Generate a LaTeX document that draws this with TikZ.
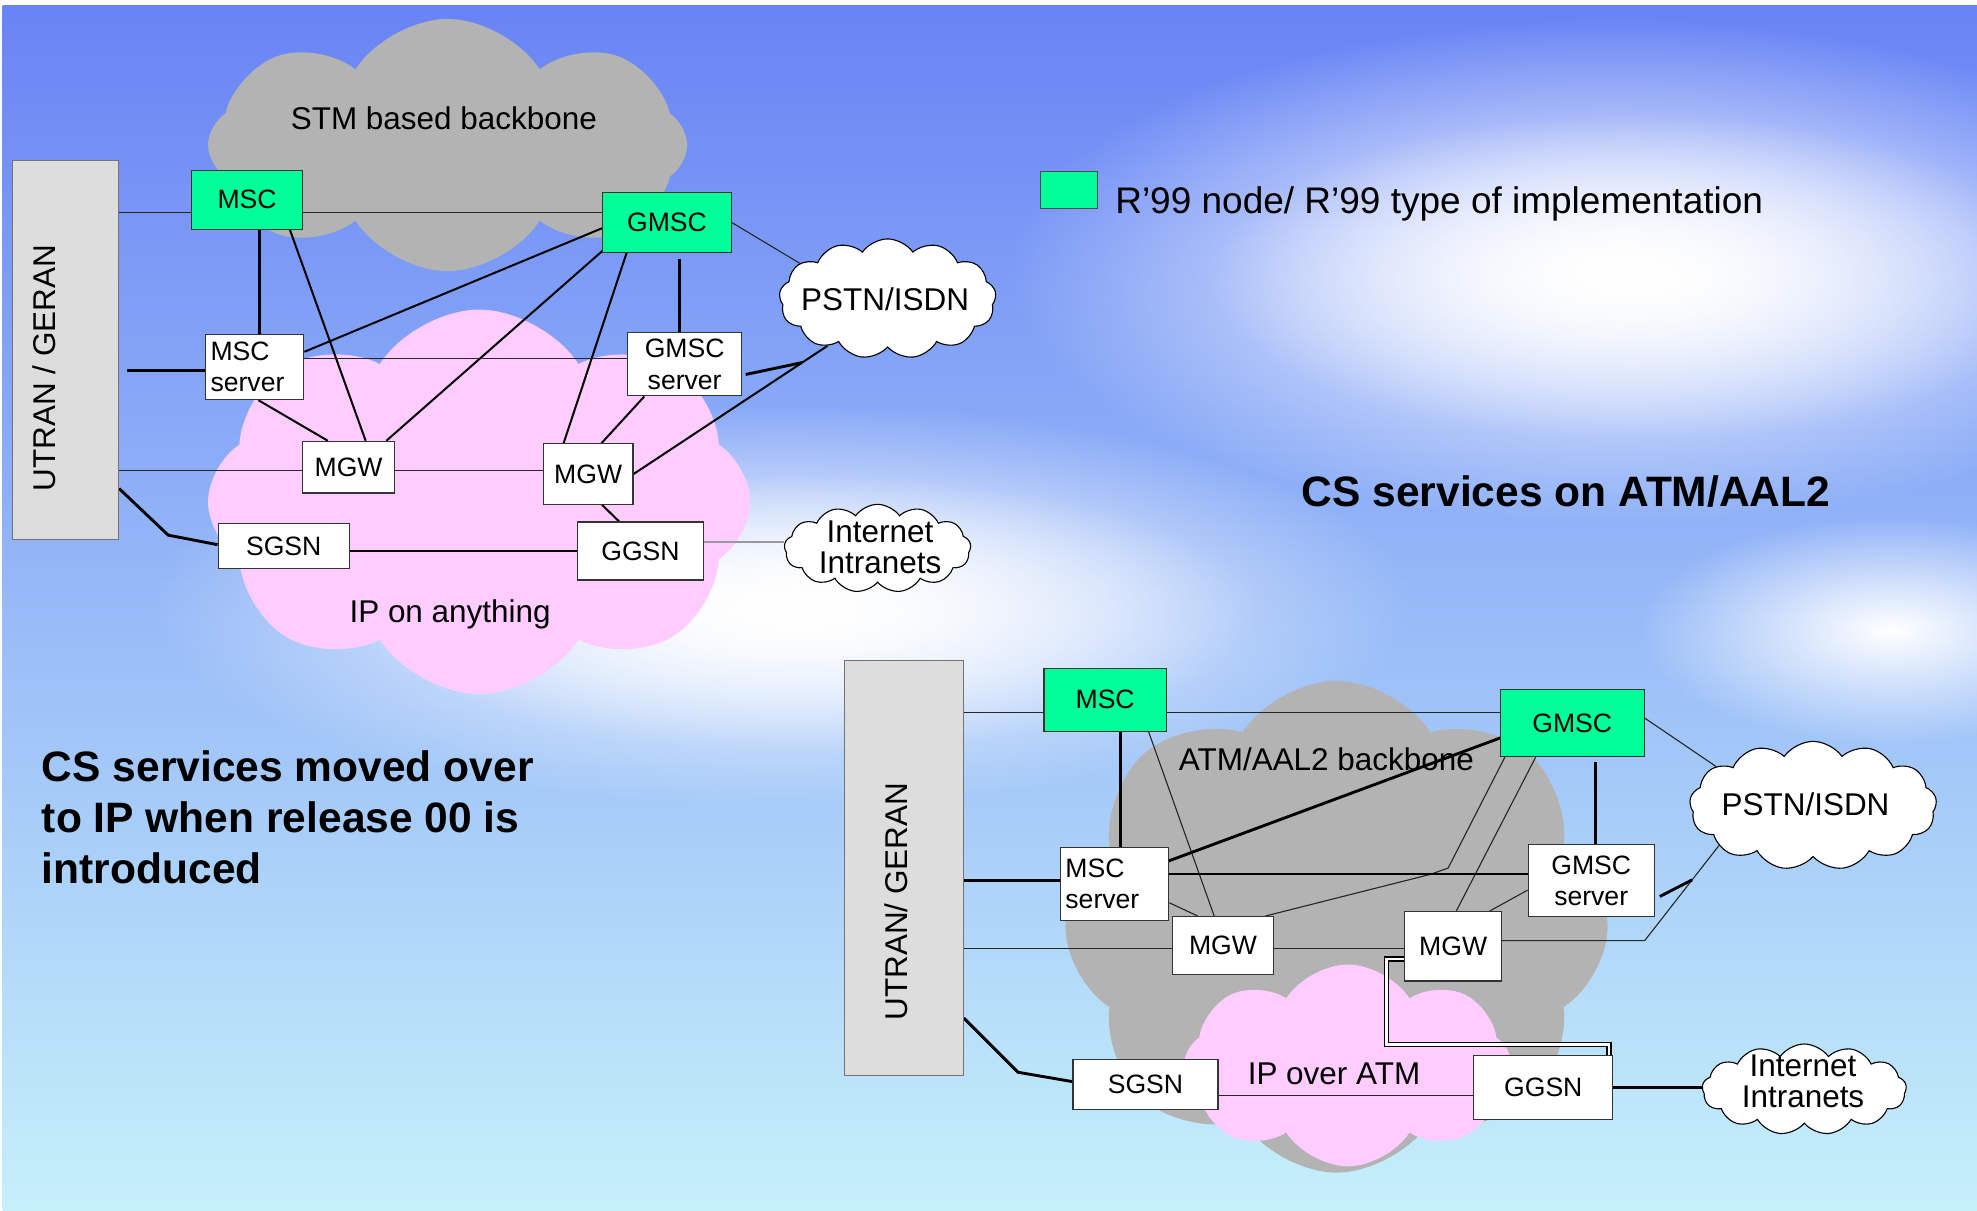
\documentclass[tikz,border=0pt]{standalone}
\usepackage{fontspec}
\setmainfont{Liberation Sans}
\usetikzlibrary{calc}
\usetikzlibrary{shapes.symbols}
\usetikzlibrary{fadings}
\definecolor{rgreen}{RGB}{0,255,153}
\definecolor{cloudgray}{RGB}{179,179,179}
\definecolor{ippink}{RGB}{255,204,255}
\definecolor{rangray}{RGB}{221,221,221}
\definecolor{skytop}{RGB}{104,132,245}
\definecolor{skymid}{RGB}{172,198,250}
\definecolor{skybot}{RGB}{198,240,250}
\tikzfading[name=skyglow, inner color=transparent!0, outer color=transparent!100]
\pgfdeclarelayer{back}
\pgfdeclarelayer{wires}
\pgfsetlayers{back,wires,main}
\tikzset{
  netbox/.style 2 args={draw=black!80, fill=white, line width=0.5pt, inner sep=2pt,
    minimum width=#1*0.02cm, minimum height=#2*0.02cm, font=\fontsize{12}{14.2}\selectfont},
  r99box/.style 2 args={netbox={#1}{#2}, fill=rgreen},
  ranbox/.style 2 args={draw=black!55, fill=rangray, line width=0.5pt,
    minimum width=#1*0.02cm, minimum height=#2*0.02cm},
  bigcloud/.style={cloud, cloud puffs=8, cloud puff arc=115, inner sep=0pt},
  netcloud/.style={cloud, cloud puffs=13, cloud puff arc=110, draw=black, fill=white,
    line width=0.5pt, inner sep=0pt},
  lbl/.style={font=\fontsize{14.2}{14}\selectfont, align=center},
  thinln/.style={line width=0.5pt, draw=black!85},
  midln/.style={line width=0.9pt},
  thkln/.style={line width=1.3pt},
  dblln/.style={double, line width=0.6pt, double distance=1.2pt},
  glow/.style={fill=white, path fading=skyglow},
}

\begin{document}
\begin{tikzpicture}[x=0.02cm, y=-0.02cm]
  \useasboundingbox (0,0) rectangle (1568,960);

  \begin{pgfonlayer}{back}
    % sky
    \fill[white] (0,0) rectangle (1568,960);
    \shade[top color=skytop, middle color=skymid, bottom color=skybot] (2,4) rectangle (1568,960);
    \fill[glow] (1280,215) ellipse [x radius=480, y radius=200];
    \fill[glow] (1300,220) ellipse [x radius=340, y radius=130];
    \fill[glow] (620,480) ellipse [x radius=500, y radius=160];
    \fill[glow] (640,485) ellipse [x radius=360, y radius=110];
    \fill[glow] (1500,500) ellipse [x radius=200, y radius=90];

    % backbones
    \node[bigcloud, fill=cloudgray, minimum width=380*0.02cm, minimum height=200*0.02cm] (stm) at (355,115) {};
    \node[bigcloud, fill=ippink, minimum width=430*0.02cm, minimum height=305*0.02cm] (ipany) at (380,398) {};
    \node[bigcloud, fill=cloudgray, minimum width=430*0.02cm, minimum height=390*0.02cm] (atm) at (1060,735) {};
    \node[bigcloud, fill=ippink, minimum width=260*0.02cm, minimum height=160*0.02cm] (ipatm) at (1069,845) {};
    \node[lbl] (stmtxt) at (352,94) {STM based backbone};
    \node[lbl] (ipanytxt) at (357,487) {IP on anything};
    \node[lbl] (atmtxt) at (1052,602) {ATM/AAL2 backbone};
    \node[lbl] (ipatmtxt) at (1058,852) {IP over ATM};

    % outside networks
    \node[netcloud, minimum width=172*0.02cm, minimum height=95*0.02cm] (pstn) at (704,237) {};
    \node[netcloud, minimum width=148*0.02cm, minimum height=70*0.02cm] (inet) at (696,435) {};
    \node[netcloud, minimum width=196*0.02cm, minimum height=102*0.02cm] (pstnb) at (1438,639) {};
    \node[netcloud, minimum width=162*0.02cm, minimum height=72*0.02cm] (inetb) at (1431,864) {};
    \node[lbl] (pstntxt) at (702,237) {PSTN/ISDN};
    \node[lbl] (inettxt) at (698,434) {Internet\\Intranets};
    \node[lbl] (pstnbtxt) at (1432,638) {PSTN/ISDN};
    \node[lbl] (inetbtxt) at (1430,858) {Internet\\Intranets};
  \end{pgfonlayer}

  % release 00 nodes
  \node[ranbox={84}{301}] (utran) at (52,277.5) {};
  \node[lbl, rotate=90] (utrantxt) at (35,292) {UTRAN / GERAN};
  \node[r99box={88}{47}] (msc) at (196,158.5) {MSC};
  \node[r99box={102}{47}] (gmsc) at (529,176.5) {GMSC};
  \node[netbox={78}{52}, align=left, text width=1.4cm] (mscsrv) at (202,291) {MSC\\server};
  \node[netbox={90}{50}, align=center] (gmscsrv) at (543,289) {GMSC\\server};
  \node[netbox={73}{41}] (mgwa) at (276.5,370.5) {MGW};
  \node[netbox={71}{48}] (mgwb) at (466.5,376) {MGW};
  \node[netbox={104}{36}] (sgsn) at (225,433) {SGSN};
  \node[netbox={100}{46}] (ggsn) at (508,437) {GGSN};

  % ATM/AAL2 nodes
  \node[ranbox={94}{329}] (utranb) at (717,688.5) {};
  \node[lbl, rotate=90] (utranbtxt) at (711,715) {UTRAN/ GERAN};
  \node[r99box={97}{50}] (mscb) at (876.5,555) {MSC};
  \node[r99box={114}{53}] (gmscb) at (1247,573.5) {GMSC};
  \node[netbox={86}{58}, align=left, text width=1.56cm] (mscsrvb) at (884,701) {MSC\\server};
  \node[netbox={100}{57}, align=center] (gmscsrvb) at (1262,698.5) {GMSC\\server};
  \node[netbox={80}{46}] (mgwc) at (970,750) {MGW};
  \node[netbox={77}{55}] (mgwd) at (1152.5,750.5) {MGW};
  \node[netbox={115}{40}] (sgsnb) at (908.5,860) {SGSN};
  \node[netbox={110}{51}] (ggsnb) at (1224,862.5) {GGSN};

  % legend and titles
  \node[draw=black!70, fill=rgreen, inner sep=0pt, minimum width=45*0.02cm, minimum height=29*0.02cm] (legbox) at (847.5,150.5) {};
  \node[anchor=west, font=\fontsize{16.7}{20}\selectfont] (legtxt) at ($(legbox.east)+(8,11)$) {R’99 node/ R’99 type of implementation};
  \node[font=\fontsize{19.2}{23}\selectfont\bfseries] (atmtitle) at (1242,390) {CS services on ATM/AAL2};
  \node[anchor=north west, align=left, font=\fontsize{19.2}{23}\selectfont\bfseries] (iptitle) at (27,589) {CS services moved over\\to IP when release 00 is\\introduced};

  \begin{pgfonlayer}{wires}
    % release 00 links
    \draw[thinln] ($(msc.west)+(0,10)$) coordinate (t1) -- (t1 -| utran.east);
    \draw[thinln] (t1 -| msc.east) -- (t1 -| gmsc.west);
    \draw[thkln] ($(msc.south)+(10,0)$) coordinate (t2) -- (t2 |- mscsrv.north);
    \draw[midln] ($(msc.south)+(34,0)$) -- ($(mgwa.north)+(13.5,0)$);
    \draw[midln] ($(gmsc.west)+(0,4.5)$) -- ($(mscsrv.east)+(0,-12)$);
    \draw[midln] ($(gmsc.south west)+(2,-3)$) -- ($(mgwa.north east)+(-7,0)$);
    \draw[midln] ($(gmsc.south)+(-32,0)$) -- ($(mgwb.north)+(-19.5,0)$);
    \draw[thkln] ($(gmsc.south)+(10,5)$) coordinate (t3) -- (t3 |- gmscsrv.north);
    \draw[thinln] (gmsc.east) -- (pstn.158);
    \draw[thkln] ($(mscsrv.west)+(0,3)$) coordinate (t4) -- ($(t4 -| utran.east)+(6,0)$);
    \draw[thinln] ($(mscsrv.east)+(0,-7)$) coordinate (t5) -- (t5 -| gmscsrv.west);
    \draw[midln] (mgwb.east) -- coordinate[pos=0.87] (t6) (pstn.218);
    \draw[thkln] ($(gmscsrv.east)+(3,8)$) -- (t6);
    \draw[midln] ($(mscsrv.south)+(3,0)$) -- ($(mgwa.north)+(-16.5,0)$);
    \draw[midln] ($(gmscsrv.south)+(-32,0)$) -- ($(mgwb.north)+(10.5,0)$);
    \draw[thinln] ($(mgwa.west)+(0,2.5)$) coordinate (t7) -- (t7 -| utran.east);
    \draw[thinln] (t7 -| mgwa.east) -- (t7 -| mgwb.west);
    \draw[midln] ($(mgwb.south)+(11,0)$) -- ($(ggsn.north)+(-17,0)$);
    \draw[thkln] ($(utran.south east)+(0,-41)$) -- ++(39,37) -- ($(sgsn.west)+(0,-1)$);
    \draw[thkln] ($(sgsn.east)+(0,4)$) coordinate (t8) -- (t8 -| ggsn.west);
    \draw[line width=1pt, draw=black!40] ($(ggsn.east)+(0,-7)$) coordinate (t9) -- (t9 -| inet.west);

    % ATM/AAL2 links
    \draw[thinln] ($(mscb.west)+(0,10)$) coordinate (u1) -- (u1 -| utranb.east);
    \draw[thinln] (u1 -| mscb.east) -- (u1 -| gmscb.west);
    \draw[thkln] ($(mscb.south)+(12.5,0)$) coordinate (u2) -- (u2 |- mscsrvb.north);
    \draw[thinln] ($(mscb.south)+(34.5,0)$) -- ($(mgwc.north)+(-7,0)$);
    \draw[thkln] ($(gmscb.west)+(1,11.5)$) -- ($(mscsrvb.east)+(-1,-18)$);
    \draw[thinln] ($(gmscb.south west)+(4,0)$) -- ++(-45,88) -- ++(-14,5) -- ($(mgwc.north east)+(-7,0)$);
    \draw[thinln] ($(gmscb.south)+(-29,0)$) -- ($(mgwd.north)+(2.5,0)$);
    \draw[thkln] ($(gmscb.south)+(18.5,4)$) coordinate (u3) -- (u3 |- gmscsrvb.north);
    \draw[thinln] ($(gmscb.east)+(0,-4)$) -- (pstnb.158);
    \draw[thkln] ($(mscsrvb.west)+(0,-3)$) coordinate (u4) -- (u4 -| utranb.east);
    \draw[line width=0.7pt] ($(mscsrvb.east)+(0,-8)$) coordinate (u5) -- (u5 -| gmscsrvb.west);
    \draw[thinln] ($(mscsrvb.east)+(0,15)$) -- ($(mgwc.north)+(-20,0)$);
    \draw[thinln] ($(gmscsrvb.west)+(0,7.5)$) -- ($(mgwd.north east)+(-10,0)$);
    \draw[thinln] ($(mgwd.east)+(0,-4.5)$) -- ++(113,0) -- coordinate[pos=0.64] (u7) (pstnb.203);
    \draw[thkln] ($(gmscsrvb.east)+(4,12.5)$) -- (u7);
    \draw[thinln] ($(mgwc.west)+(0,2.6)$) coordinate (u8) -- (u8 -| utranb.east);
    \draw[thinln] (u8 -| mgwc.east) -- (u8 -| mgwd.west);
    \draw[dblln] ($(mgwd.west)+(0,10)$) -- ++(-14,0) |- ($(ggsnb.north)+(52,-8)$) -- ($(ggsnb.north)+(52,0)$);
    \draw[thkln] ($(utranb.south east)+(0,-46)$) -- ++(43,43) -- ($(sgsnb.west)+(1,-2)$);
    \draw[thinln] ($(sgsnb.east)+(0,9)$) coordinate (u9) -- (u9 -| ggsnb.west);
    \draw[thkln] (ggsnb.east) -- (ggsnb.east -| inetb.west);
  \end{pgfonlayer}
\end{tikzpicture}
\end{document}
